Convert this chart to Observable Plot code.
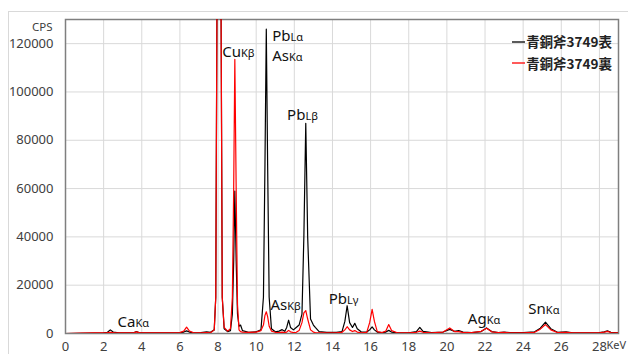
<!DOCTYPE html>
<html>
<head>
<meta charset="utf-8">
<script src="https://cdn.jsdelivr.net/npm/d3@7"></script>
<script src="https://cdn.jsdelivr.net/npm/@observablehq/plot@0.6"></script>
<style>
  html, body { margin: 0; padding: 0; background: #fff; overflow: hidden; }
  #wrap { position: relative; width: 628px; height: 354px; }
  #outer { position: absolute; left: 8px; top: 11px; width: 640px; height: 360px; border: 1px solid #d9d9d9; box-sizing: border-box; }
  #chart { position: absolute; left: 0; top: 0; }
  #legend { position: absolute; right: 16px; top: 31px; font-family: "Noto Sans CJK JP", sans-serif; font-weight: 700; font-size: 13.5px; color: #222; line-height: 21.5px; }
  .item { display: flex; align-items: center; }
  .swatch { display: block; margin-right: 1px; }
</style>
</head>
<body>
<div id="wrap">
  <div id="outer"></div>
  <div id="chart"></div>
  <div id="legend"></div>
</div>
<script>
// ---- data ----
const seriesNames = ["青銅斧3749表", "青銅斧3749裏"];
const seriesColors = ["#000000", "#ff0000"];

const energy = [
  0.0, 0.8, 1.5, 2.0, 2.2, 2.35, 2.5, 2.8, 3.3, 3.6, 3.72, 3.85, 4.5, 5.5, 6.0, 6.2, 6.35, 6.5, 6.7, 7.1,
  7.4, 7.6, 7.8, 7.88, 7.95, 8.05, 8.15, 8.22, 8.32, 8.5, 8.65, 8.75, 8.82, 8.88, 8.95, 9.02, 9.1, 9.18, 9.28, 9.6,
  10.0, 10.25, 10.38, 10.46, 10.53, 10.6, 10.68, 10.8, 11.0, 11.2, 11.36, 11.5, 11.6, 11.7, 11.8, 11.95, 12.1, 12.25, 12.4, 12.5,
  12.6, 12.7, 12.85, 13.0, 13.1, 13.3, 13.7, 14.2, 14.5, 14.65, 14.77, 14.9, 15.05, 15.17, 15.3, 15.5, 15.8, 15.95, 16.08, 16.2,
  16.35, 16.6, 16.8, 16.95, 17.1, 17.4, 18.0, 18.4, 18.58, 18.75, 19.2, 19.8, 20.15, 20.4, 20.62, 20.85, 21.3, 21.8, 22.08, 22.35,
  22.7, 23.0, 23.3, 24.0, 24.6, 24.9, 25.17, 25.45, 25.8, 26.25, 26.6, 27.3, 28.0, 28.25, 28.42, 28.6, 29.0
];
const cpsFront = [
  0, 100, 200, 300, 500, 1500, 600, 300, 300, 400, 800, 350, 300, 300, 400, 600, 1100, 600, 300, 400,
  700, 500, 1500, 15000, 150000, 450000, 150000, 15000, 2000, 800, 1200, 8000, 30000, 59000, 30000, 8000, 3000, 3500, 1200, 500,
  700, 1500, 15000, 70000, 126000, 70000, 15000, 2000, 700, 1000, 1600, 900, 2500, 5500, 2500, 1500, 2500, 3500, 8000, 40000,
  87000, 40000, 6000, 3500, 2500, 800, 500, 500, 800, 5000, 11500, 4500, 2500, 4200, 2000, 700, 600, 1500, 2700, 1500,
  600, 400, 600, 1300, 600, 300, 300, 800, 2500, 900, 400, 600, 1700, 900, 1200, 600, 400, 800, 2300, 800,
  400, 600, 400, 400, 700, 2200, 4700, 2000, 500, 700, 300, 300, 400, 700, 1100, 500, 300
];
const cpsBack = [
  0, 200, 300, 300, 350, 500, 400, 300, 300, 400, 700, 350, 300, 300, 400, 1000, 2600, 1000, 400, 300,
  400, 300, 1500, 15000, 150000, 450000, 150000, 15000, 2500, 1000, 2000, 15000, 60000, 113500, 60000, 12000, 1500, 800, 600, 500,
  600, 1200, 3500, 7500, 9000, 7000, 3000, 1000, 500, 400, 600, 400, 600, 1300, 700, 400, 500, 1200, 4500, 8500,
  9500, 6000, 1500, 600, 400, 300, 300, 300, 500, 1500, 2800, 1500, 800, 1200, 600, 300, 500, 4500, 10000, 5000,
  800, 400, 1000, 3700, 1200, 300, 300, 500, 1000, 500, 300, 600, 2300, 800, 800, 400, 400, 900, 2200, 700,
  400, 500, 300, 300, 500, 1800, 3700, 1500, 400, 500, 300, 300, 300, 600, 900, 400, 300
];

const xTicks = [0, 2, 4, 6, 8, 10, 12, 14, 16, 18, 20, 22, 24, 26, 28];
const yTicks = [0, 20000, 40000, 60000, 80000, 100000, 120000];

// peak labels: element | line (subscript)
const peakNames = ["Ca|Kα", "Cu|Kβ", "Pb|Lα", "As|Kα", "Pb|Lβ", "As|Kβ", "Pb|Lγ", "Ag|Kα", "Sn|Kα"];
const peakX = [2.73, 8.22, 10.84, 10.84, 11.62, 10.75, 13.8, 21.1, 24.27];
const peakY = [4700, 116500, 123000, 115000, 90300, 11600, 14400, 6100, 10200];

// ---- tables built from the arrays ----
const front = energy.map((e, i) => ({e, cps: cpsFront[i]}));
const back = energy.map((e, i) => ({e, cps: cpsBack[i]}));
const peaks = peakNames.map((t, i) => ({t, x: peakX[i], y: peakY[i]}));

const svg = Plot.plot({
  width: 628,
  height: 354,
  marginLeft: 65,
  marginRight: 10,
  marginTop: 19,
  marginBottom: 21,
  style: {fontFamily: "'Noto Sans', sans-serif", fontSize: "13px", color: "#404040", background: "transparent"},
  x: {domain: [0, 29], ticks: xTicks, tickSize: 0, tickPadding: 8, label: null},
  y: {domain: [0, 130000], ticks: yTicks, tickSize: 0, tickPadding: 12, label: null, tickFormat: d => String(d)},
  marks: [
    Plot.ruleX(xTicks, {stroke: "#d9d9d9", strokeWidth: 1}),
    Plot.ruleY(yTicks, {stroke: "#d9d9d9", strokeWidth: 1}),
    Plot.frame({stroke: "#7f7f7f", strokeWidth: 1.5}),
    Plot.line(front, {x: "e", y: "cps", stroke: seriesColors[0], strokeWidth: 1.2, clip: true}),
    Plot.line(back, {x: "e", y: "cps", stroke: seriesColors[1], strokeWidth: 1.2, clip: true}),
    Plot.text(peaks, {x: "x", y: "y", text: "t", textAnchor: "start", fontSize: 15, fill: "#111", lineAnchor: "middle"}),
    Plot.text(["CPS"], {text: d => d, frameAnchor: "top-left", dx: -13, dy: 3, textAnchor: "end", fill: "#404040", fontSize: 11.5}),
    Plot.text(["KeV"], {text: d => d, frameAnchor: "bottom-right", dx: -12, dy: 15, textAnchor: "start", fill: "#404040", fontSize: 11})
  ]
});

// turn "Pb|Lα" into main text + small subscript
d3.select(svg).selectAll("text").each(function() {
  const s = this.textContent;
  if (s.includes("|")) {
    const [main, sub] = s.split("|");
    const sel = d3.select(this);
    sel.text(main);
    sel.append("tspan").attr("font-size", 11).text(sub);
  }
});

document.getElementById("chart").appendChild(svg);

const legend = d3.select("#legend");
seriesNames.forEach((n, i) => {
  const item = legend.append("div").attr("class", "item");
  const sw = item.append("svg").attr("class", "swatch").attr("width", 13).attr("height", 4);
  sw.append("line").attr("x1", 0).attr("x2", 13).attr("y1", 2).attr("y2", 2)
    .attr("stroke", seriesColors[i]).attr("stroke-width", 1.3);
  item.append("span").text(n);
});
</script>
</body>
</html>
